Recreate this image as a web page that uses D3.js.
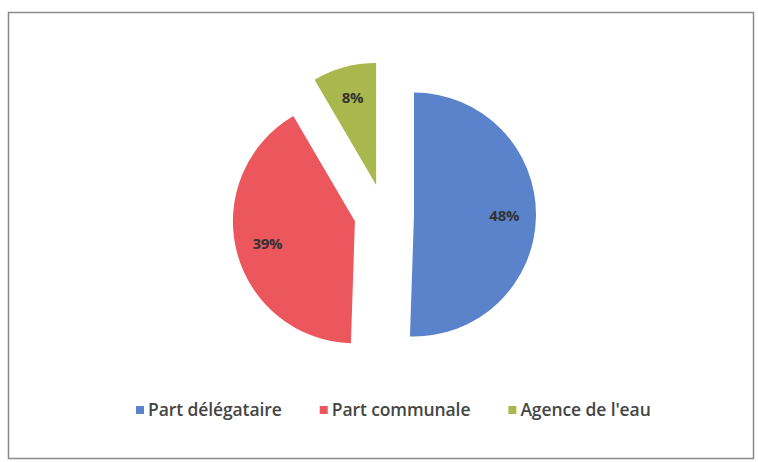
<!DOCTYPE html>
<html>
<head>
<meta charset="utf-8">
<script src="https://cdn.jsdelivr.net/npm/d3@7"></script>
<style>
  body { margin: 0; background: #fff; }
  svg { display: block; }
</style>
</head>
<body>
<div id="chart"></div>
<script>
// data
const categories = ['Part délégataire', 'Part communale', "Agence de l'eau"];
const values = [48, 39, 8];
const labels = ['48%', '39%', '8%'];
const colors = ['#5b83cc', '#eb575c', '#a9b84c'];

const width = 758, height = 462;
const svg = d3.select('#chart').append('svg')
    .attr('width', width)
    .attr('height', height);

// outer frame
svg.append('rect')
    .attr('x', 8.5).attr('y', 12.5)
    .attr('width', 745).attr('height', 446)
    .attr('fill', '#fff')
    .attr('stroke', '#8a8a8a')
    .attr('stroke-width', 1.5);

const cx = 384, cy = 214, r = 122, explode = 30;

const pie = d3.pie().sort(null).value(d => d)(values);
const arc = d3.arc().innerRadius(0).outerRadius(r);
const labelArc = d3.arc().innerRadius(r * 0.74).outerRadius(r * 0.74);

const g = svg.append('g').attr('transform', `translate(${cx},${cy})`);

const slices = g.selectAll('g.slice')
    .data(pie)
    .join('g')
    .attr('class', 'slice')
    .attr('transform', d => {
        const a = (d.startAngle + d.endAngle) / 2;
        return `translate(${explode * Math.sin(a)},${-explode * Math.cos(a)})`;
    });

slices.append('path')
    .attr('d', arc)
    .attr('fill', (d, i) => colors[i]);

slices.append('text')
    .attr('transform', d => `translate(${labelArc.centroid(d)})`)
    .attr('text-anchor', 'middle')
    .attr('dy', '0.35em')
    .style('font-family', '"Open Sans", sans-serif')
    .style('font-weight', 'bold')
    .style('font-size', '15px')
    .style('letter-spacing', '-0.3px')
    .attr('fill', '#333')
    .text((d, i) => labels[i]);

// legend
const legend = svg.append('g').attr('transform', 'translate(136,410)');
let x = 0;
categories.forEach((c, i) => {
    const item = legend.append('g').attr('transform', `translate(${x},0)`);
    item.append('rect')
        .attr('x', 0).attr('y', -4)
        .attr('width', 8).attr('height', 8)
        .attr('fill', colors[i]);
    const t = item.append('text')
        .attr('x', 12).attr('y', 0)
        .attr('dy', '0.35em')
        .style('font-family', '"Open Sans", sans-serif')
        .style('font-weight', 600)
        .style('font-size', '17.5px')
        .style('letter-spacing', '-0.1px')
        .attr('fill', '#454545')
        .text(c);
    x += 12 + t.node().getComputedTextLength() + 38;
});
</script>
</body>
</html>
